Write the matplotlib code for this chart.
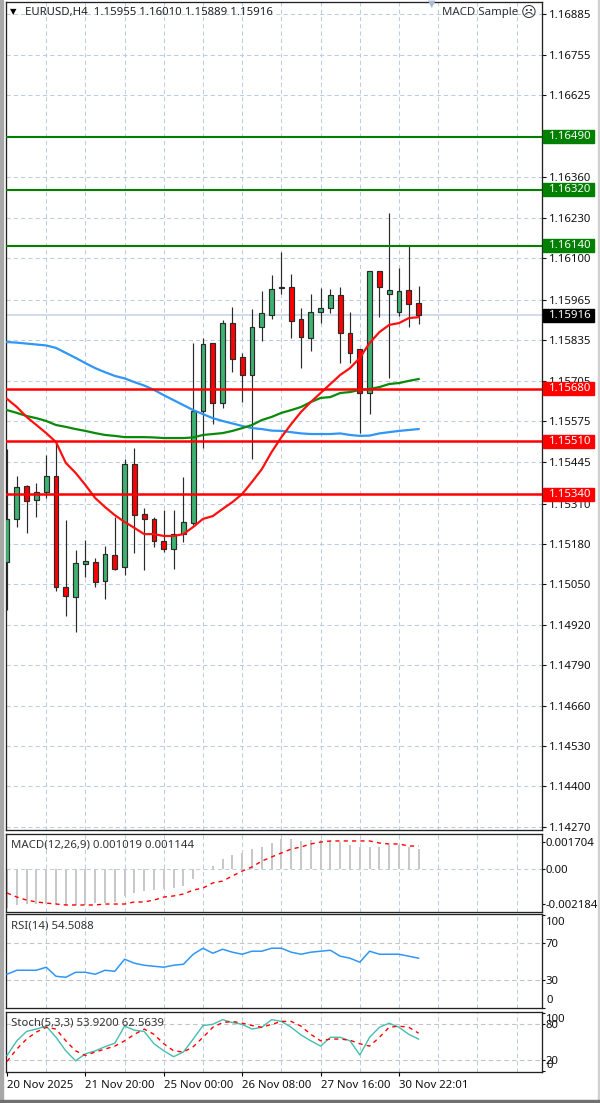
import matplotlib
matplotlib.use("Agg")
import matplotlib.pyplot as plt
from matplotlib.patches import Rectangle

plt.rcParams['font.family'] = ['Noto Sans', 'DejaVu Sans']

# candles, newest last
opens = [1.15122, 1.15261, 1.15367, 1.15322, 1.15348, 1.15399, 1.15042, 1.15010, 1.15116, 1.15122, 1.15061,
         1.15145, 1.15106, 1.15438, 1.15277, 1.15261, 1.15190, 1.15164, 1.15212, 1.15248, 1.15608, 1.15827,
         1.15634, 1.15891, 1.15782, 1.15724, 1.15878, 1.15917, 1.16004, 1.16007, 1.15904, 1.15843, 1.15926,
         1.15939, 1.15981, 1.15859, 1.15807, 1.15666, 1.16058, 1.15984, 1.15926, 1.15997, 1.15955]
highs = [1.15486, 1.15399, 1.15370, 1.15376, 1.15467, 1.15505, 1.15257, 1.15161, 1.15193, 1.15135, 1.15174,
         1.15267, 1.15454, 1.15489, 1.15296, 1.15267, 1.15290, 1.15290, 1.15396, 1.15827, 1.15843, 1.15827,
         1.15901, 1.15943, 1.15795, 1.15936, 1.15994, 1.16045, 1.16119, 1.16049, 1.15939, 1.15984, 1.16004,
         1.16000, 1.16007, 1.15926, 1.15807, 1.16058, 1.16058, 1.16245, 1.16068, 1.16139, 1.16010]
lows = [1.14968, 1.15235, 1.15216, 1.15267, 1.15328, 1.15029, 1.14949, 1.14897, 1.15074, 1.15042, 1.15003,
        1.15097, 1.15080, 1.15151, 1.15097, 1.15171, 1.15155, 1.15100, 1.15187, 1.15241, 1.15489, 1.15566,
        1.15618, 1.15733, 1.15637, 1.15454, 1.15833, 1.15904, 1.15984, 1.15843, 1.15746, 1.15801, 1.15891,
        1.15923, 1.15762, 1.15762, 1.15537, 1.15598, 1.15910, 1.15714, 1.15914, 1.15878, 1.15889]
closes = [1.15261, 1.15364, 1.15319, 1.15348, 1.15399, 1.15042, 1.15013, 1.15119, 1.15126, 1.15058, 1.15148,
          1.15100, 1.15438, 1.15273, 1.15261, 1.15190, 1.15164, 1.15212, 1.15251, 1.15608, 1.15824, 1.15634,
          1.15891, 1.15775, 1.15724, 1.15878, 1.15923, 1.16000, 1.16007, 1.15897, 1.15846, 1.15926, 1.15939,
          1.15981, 1.15859, 1.15795, 1.15666, 1.16058, 1.16007, 1.15997, 1.15994, 1.15952, 1.15916]

ma_red = [1.15647, 1.15621, 1.15589, 1.15563, 1.15537, 1.15508, 1.15441, 1.15409, 1.15370, 1.15328, 1.15299,
          1.15273, 1.15251, 1.15232, 1.15212, 1.15212, 1.15206, 1.15206, 1.15212, 1.15235, 1.15261, 1.15270,
          1.15293, 1.15315, 1.15341, 1.15380, 1.15421, 1.15476, 1.15524, 1.15566, 1.15605, 1.15637, 1.15666,
          1.15695, 1.15724, 1.15746, 1.15779, 1.15827, 1.15862, 1.15885, 1.15891, 1.15907, 1.15910]
ma_green = [1.15611, 1.15602, 1.15592, 1.15585, 1.15576, 1.15563, 1.15557, 1.15550, 1.15544, 1.15537, 1.15531,
            1.15528, 1.15524, 1.15524, 1.15524, 1.15523, 1.15521, 1.15521, 1.15521, 1.15523, 1.15531, 1.15534,
            1.15537, 1.15544, 1.15553, 1.15563, 1.15579, 1.15589, 1.15602, 1.15611, 1.15621, 1.15637, 1.15650,
            1.15653, 1.15666, 1.15669, 1.15676, 1.15679, 1.15685, 1.15695, 1.15698, 1.15705, 1.15711]
ma_blue = [1.15830, 1.15828, 1.15825, 1.15822, 1.15819, 1.15811, 1.15795, 1.15779, 1.15762, 1.15746, 1.15733,
           1.15721, 1.15713, 1.15701, 1.15690, 1.15676, 1.15659, 1.15643, 1.15627, 1.15611, 1.15598, 1.15585,
           1.15576, 1.15568, 1.15560, 1.15553, 1.15550, 1.15545, 1.15544, 1.15540, 1.15536, 1.15534, 1.15534,
           1.15534, 1.15536, 1.15531, 1.15528, 1.15529, 1.15536, 1.15540, 1.15544, 1.15547, 1.15550]

macd_hist = [-0.00246, -0.00227, -0.00221, -0.00221, -0.00221, -0.00221, -0.00227, -0.00227, -0.00227, -0.00215,
             -0.00215, -0.00208, -0.00170, -0.00151, -0.00139, -0.00133, -0.00126, -0.00120, -0.00107, -0.00063,
             -0.00002, 0.00019, 0.00063, 0.00088, 0.00101, 0.00126, 0.00139, 0.00164, 0.00189, 0.00189, 0.00177,
             0.00183, 0.00183, 0.00177, 0.00170, 0.00151, 0.00139, 0.00139, 0.00139, 0.00151, 0.00151, 0.00139,
             0.00126]
macd_signal = [-0.00151, -0.00177, -0.00196, -0.00208, -0.00215, -0.00221, -0.00227, -0.00227, -0.00227, -0.00227,
               -0.00221, -0.00221, -0.00221, -0.00208, -0.00208, -0.00196, -0.00177, -0.00170, -0.00158, -0.00133,
               -0.00120, -0.00088, -0.00076, -0.00044, -0.00013, 0.00013, 0.00050, 0.00076, 0.00101, 0.00126,
               0.00139, 0.00158, 0.00170, 0.00177, 0.00177, 0.00177, 0.00177, 0.00177, 0.00164, 0.00158, 0.00158,
               0.00145, 0.00145]

rsi = [36.5, 40.8, 40.8, 40.8, 44.1, 34.3, 33.2, 38.6, 38.6, 36.5, 40.8, 39.7, 52.7, 48.4, 46.2, 45.1, 44.1, 46.2,
       47.3, 58.1, 64.6, 59.2, 63.5, 60.3, 58.1, 61.4, 61.4, 64.6, 64.6, 60.3, 58.1, 60.3, 61.4, 62.4, 56, 53.8,
       49.5, 61.4, 58.1, 58.1, 58.1, 56, 53.8]

stoch_k = [27, 52, 68, 72, 77, 58, 35, 18, 30, 35, 42, 48, 77, 70, 68, 47, 35, 25, 33, 55, 78, 80, 88, 83, 80, 72,
           75, 88, 85, 75, 62, 52, 43, 58, 58, 52, 28, 58, 75, 82, 75, 63, 55]
stoch_d = [17, 38, 55, 67, 75, 72, 52, 35, 27, 33, 38, 43, 52, 63, 72, 63, 47, 35, 33, 42, 58, 75, 83, 85, 82, 78,
           75, 80, 85, 85, 77, 63, 52, 55, 55, 53, 47, 43, 58, 75, 77, 75, 65]

price_ticks = [1.16885, 1.16755, 1.16625, 1.16490, 1.16360, 1.16230, 1.16100, 1.15965, 1.15835, 1.15705, 1.15575,
               1.15445, 1.15310, 1.15180, 1.15050, 1.14920, 1.14790, 1.14660, 1.14530, 1.14400, 1.14270]
green_levels = [1.16490, 1.16320, 1.16140]
red_levels = [1.15680, 1.15510, 1.15340]
last_price = 1.15916

date_pos = [0, 8, 16, 24, 32, 40]
date_labels = ['20 Nov 2025', '21 Nov 20:00', '25 Nov 00:00', '26 Nov 08:00', '27 Nov 16:00', '30 Nov 22:01']

W, H = 600, 1103
GRID = '#bccce3'
FS = 8.2
bars = list(range(len(opens)))


def panel(top, bottom):
    ax = fig.add_axes([5.7 / W, 1 - bottom / H, 536 / W, (bottom - top) / H])
    ax.set_xlim(-0.133, 54.56)
    for s in ax.spines.values():
        s.set_linewidth(0.95)
        s.set_color('#222222')
    ax.yaxis.tick_right()
    ax.tick_params(axis='y', length=2.5, width=0.8, pad=0.5, labelsize=FS, colors='#111111')
    ax.set_xticks([])
    for i in range(4, 55, 4):
        ax.axvline(i, color=GRID, lw=0.75, ls=(0, (4, 3)), zorder=1)
    return ax


def side_label(ax, value, text, dy):
    ax.annotate(text, xy=(1, value), xycoords=('axes fraction', 'data'), xytext=(3.2, dy),
                textcoords='offset points', fontsize=FS, va='center', color='#111111',
                annotation_clip=False)


def price_box(ax, value, color):
    # flag on the price scale, 50x13 px
    ax.add_patch(Rectangle((1.003, value - 0.00021), 0.094, 0.00042, transform=ax.get_yaxis_transform(),
                           color=color, clip_on=False, zorder=9))
    ax.annotate('%.5f' % value, xy=(1, value), xycoords=('axes fraction', 'data'), xytext=(5.3, 0),
                textcoords='offset points', fontsize=FS, va='center', color='white', zorder=10,
                annotation_clip=False)


fig = plt.figure(figsize=(W / 100, H / 100), dpi=100, facecolor='white')

# window edges
fig.add_artist(Rectangle((0, 0), 2.5 / W, 1, transform=fig.transFigure, color='#a8a8a8'))
fig.add_artist(Rectangle((597.5 / W, 0), 2.5 / W, 1, transform=fig.transFigure, color='#d0d0d0'))
fig.add_artist(Rectangle((0, 0), 1, 3.5 / H, transform=fig.transFigure, color='#707070'))

# main chart
ax = panel(2, 830)
ax.set_ylim(1.14260, 1.16924)
ax.set_yticks(price_ticks)
ax.set_yticklabels(['%.5f' % p for p in price_ticks])
ax.tick_params(axis='y', length=3, pad=2)
for p in price_ticks:
    ax.axhline(p, color=GRID, lw=0.75, ls=(0, (4, 3)), zorder=1)
ax.axhline(last_price, color='#c6d2e4', lw=1.1, zorder=1.5)

ax.vlines(bars, lows, highs, color='#2a2a2a', lw=0.85, zorder=3)
for i in bars:
    up = closes[i] >= opens[i]
    ax.bar(i, abs(closes[i] - opens[i]), bottom=min(opens[i], closes[i]), width=0.5,
           color='#3cb371' if up else '#ff0000', edgecolor='#2a2a2a', lw=0.85, zorder=3.5)

ax.plot(bars, ma_blue, color='#2f96f5', lw=1.6, zorder=4)
ax.plot(bars, ma_green, color='#0a8a0a', lw=1.6, zorder=4)
ax.plot(bars, ma_red, color='#ff1010', lw=1.6, zorder=4)

for lv in green_levels:
    ax.axhline(lv, color='#008000', lw=1.5, zorder=5)
    price_box(ax, lv, '#008000')
for lv in red_levels:
    ax.axhline(lv, color='#ff0000', lw=1.8, zorder=5)
    price_box(ax, lv, '#ff0000')
price_box(ax, last_price, 'black')

fig.text(10 / W, 1 - 12 / H, '\u25bc', fontsize=6, color='black', va='center')
fig.text(25 / W, 1 - 12 / H, 'EURUSD,H4  1.15955 1.16010 1.15889 1.15916', fontsize=FS, color='#222222', va='center')
fig.text(442 / W, 1 - 13 / H, 'MACD Sample', fontsize=FS, color='#333333', va='center')
fig.text(521 / W, 1 - 13 / H, '\u2639', fontsize=11, color='#333333', va='center', family='DejaVu Sans')
fig.text(432 / W, 1 - 4 / H, '\u25bc', fontsize=7, color='#a9bcd6', va='center', ha='center')

# MACD
ax2 = panel(834, 912)
ax2.set_ylim(-0.002713, 0.002209)
ax2.axhline(0, color=GRID, lw=0.75, ls=(0, (4, 3)), zorder=1)
ax2.bar(bars, macd_hist, width=0.2, color='#c8c8c8', zorder=2)
ax2.plot(bars, macd_signal, color='#ff0000', lw=1, ls=(0, (3, 3)), zorder=3)
ax2.set_yticks([0.001704, 0, -0.002184])
ax2.set_yticklabels(['0.001704', '0.00', '-0.002184'])
ax2.text(5.3 / 536, 0.86, 'MACD(12,26,9) 0.001019 0.001144', transform=ax2.transAxes, fontsize=FS,
         color='#333333', va='center')

# RSI
ax3 = panel(914, 1008)
ax3.set_ylim(0, 101.6)
for lv in [70, 30]:
    ax3.axhline(lv, color='#c4c4c4', lw=0.8, ls=(0, (4, 3)), zorder=1)
ax3.plot(bars, rsi, color='#2f96f5', lw=1.1, zorder=3)
ax3.set_yticks([100, 70, 30, 0])
ax3.set_yticklabels(['', '70', '30', ''])
side_label(ax3, 100, '100', -5)
side_label(ax3, 0, '0', 5.5)
ax3.text(5.3 / 536, 0.87, 'RSI(14) 54.5088', transform=ax3.transAxes, fontsize=FS, color='#333333', va='center')

# Stochastic
ax4 = panel(1012, 1072)
ax4.set_ylim(-1, 101)
for lv in [80, 20]:
    ax4.axhline(lv, color='#c4c4c4', lw=0.8, ls=(0, (4, 3)), zorder=1)
ax4.plot(bars, stoch_k, color='#45bdb0', lw=1, zorder=3)
ax4.plot(bars, stoch_d, color='#ff0000', lw=1, ls=(0, (3, 3)), zorder=3)
ax4.set_yticks([100, 80, 20, 0])
ax4.set_yticklabels(['', '80', '20', ''])
side_label(ax4, 100, '100', -5)
side_label(ax4, 0, '0', 4.5)
ax4.text(5.3 / 536, 0.82, 'Stoch(5,3,3) 53.9200 62.5639', transform=ax4.transAxes, fontsize=FS,
         color='#333333', va='center')
ax4.set_xticks(date_pos)
ax4.set_xticklabels(date_labels, ha='left', fontsize=FS, color='#111111')
ax4.tick_params(axis='x', length=3, width=0.8, pad=3)

fig.savefig('out.png', dpi=100)
